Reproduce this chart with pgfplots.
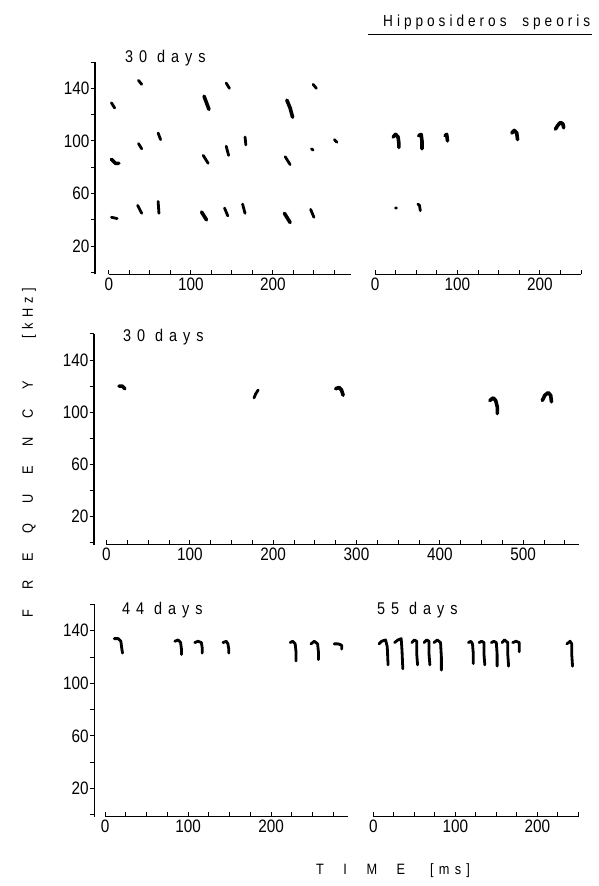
\documentclass[border=0pt]{standalone}
\usepackage{fontspec}
\setmainfont{Liberation Sans}[FakeStretch=0.85]
\newfontfamily\dayfont{Liberation Sans}[FakeStretch=0.85,LetterSpace=35]
\newfontfamily\titlefont{Liberation Sans}[FakeStretch=0.85,LetterSpace=25]
\newfontfamily\widefont{Liberation Sans}[FakeStretch=0.85,LetterSpace=130]
\usepackage{pgfplots}
\pgfplotsset{compat=1.18}

\pgfplotsset{
  panel/.style={
    scale only axis, clip=false, anchor=south west,
    ymin=-1.5, ymax=160,
    axis x line*=bottom,
    xtick={0,100,...,500}, minor xtick={25,50,...,575},
    xtick align=inside,
    major tick length=4.5pt, minor tick length=4.5pt,
    axis line style={line width=1.1pt},
    tick style={black, line width=0.9pt},
    tick label style={font=\fontsize{18}{18}\selectfont},
    /pgf/number format/assume math mode=true,
    unbounded coords=jump,
  },
  leftpanel/.style={panel, axis y line*=left,
    ytick={20,60,100,140}, minor ytick={0,40,...,160},
    ytick align=outside, yticklabel style={inner sep=1pt}},
  rightpanel/.style={panel, axis y line=none, ytick=\empty, xmin=0, xmax=250},
  call/.style={black, line width=2.8pt, line cap=round, line join=round, mark=none},
  blob/.style={black, line width=3.6pt, line cap=round, line join=round, mark=none},
}

\begin{document}
\begin{tikzpicture}[x=1pt,y=1pt]
\useasboundingbox (0,0) rectangle (598,886);

% title
\node[anchor=base west, inner sep=0pt, font=\titlefont\fontsize{16}{16}\selectfont] at (383,859) {Hipposideros\hspace{8pt} speoris};
\draw[line width=1pt] (368,851) -- (592,851);

% top left: 30 days
\begin{axis}[leftpanel, at={(95pt,611.5pt)}, width=255.8pt, height=212.5pt,
  xmin=-17, xmax=295, x axis line style={shorten <=13.9pt}]
\addplot[call] coordinates {
(3,129) (7,125) (nan,nan)
(36,146) (40,143) (nan,nan)
(143,144) (147,140) (nan,nan)
(249,143) (253,140) (nan,nan)
(36,98) (40,94) (nan,nan)
(60,106) (63,101) (nan,nan)
(115,89) (121,83) (nan,nan)
(143,96) (146,89) (nan,nan)
(166,103) (167,97) (nan,nan)
(215,88) (221,82) (nan,nan)
(247,94) (249,93) (nan,nan)
(275,101) (278,99) (nan,nan)
(3,42) (10,41) (nan,nan)
(35,51) (40,45) (nan,nan)
(60,54) (61,45) (nan,nan)
(141,49) (145,43) (nan,nan)
(163,52) (166,45) (nan,nan)
(246,48) (250,42)
};
\addplot[blob] coordinates {
(116,134) (119,129) (122,124) (nan,nan)
(217,131) (221,125) (224,118) (nan,nan)
(3,86) (8,83) (12,83) (nan,nan)
(113,46) (119,40) (nan,nan)
(214,45) (221,38)
};
\end{axis}
\node[anchor=base west, inner sep=0pt, font=\dayfont\fontsize{17}{17}\selectfont] at (125,823) {30 days};

% top right
\begin{axis}[rightpanel, at={(375pt,611.5pt)}, width=206pt, height=212.5pt]
\addplot[blob] coordinates {
(22,103) (25,105) (28,103) (29,98) (29,95) (nan,nan)
(53,104) (56,105) (57,100) (57,94) (nan,nan)
(85,104) (87,105) (88,100) (nan,nan)
(166,106) (169,108) (172,106) (173,101) (nan,nan)
(219,109) (222,112) (225,114) (228,113) (229,110)
};
\addplot[call] coordinates {
(25,49) (26,49) (nan,nan)
(52,52) (54,51) (55,47)
};
\end{axis}

% middle: 30 days
\begin{axis}[leftpanel, at={(94pt,341.2pt)}, width=485pt, height=210.9pt,
  xmin=-15, xmax=567, x axis line style={shorten <=12.5pt}]
\addplot[blob] coordinates {
(15,120) (19,120) (22,118) (nan,nan)
(275,118) (279,119) (282,117) (284,113) (nan,nan)
(460,109) (464,111) (467,109) (469,104) (469,99) (nan,nan)
(523,109) (526,113) (530,115) (533,113) (534,108)
};
\addplot[call] coordinates {
(177,111) (179,114) (182,117)
};
\end{axis}
\node[anchor=base west, inner sep=0pt, font=\dayfont\fontsize{17}{17}\selectfont] at (123,544) {30 days};

% bottom left: 44 days
\begin{axis}[leftpanel, at={(94.3pt,69.4pt)}, width=254pt, height=212.1pt,
  xmin=-13, xmax=293, x axis line style={shorten <=10.8pt}]
\addplot[call] coordinates {
(11,134) (16,134) (19,132) (20,127) (21,123) (nan,nan)
(84,132) (88,133) (91,131) (92,126) (92,122) (nan,nan)
(108,131) (112,132) (116,131) (117,127) (117,123) (nan,nan)
(142,131) (146,132) (148,130) (149,126) (149,123) (nan,nan)
(223,131) (226,132) (229,130) (230,124) (230,117) (nan,nan)
(248,130) (252,132) (256,130) (257,124) (257,118) (nan,nan)
(276,130) (281,130) (285,129) (285,126)
};
\end{axis}
\node[anchor=base west, inner sep=0pt, font=\dayfont\fontsize{17}{17}\selectfont] at (122,271) {44 days};

% bottom right: 55 days
\begin{axis}[rightpanel, at={(373.3pt,69.4pt)}, width=205pt, height=212.1pt]
\addplot[call] coordinates {
(7,130) (10,132) (15,133) (17,128) (18,114) (nan,nan)
(26,131) (30,133) (34,134) (35,125) (36,111) (nan,nan)
(47,131) (50,133) (53,132) (53,122) (54,114) (nan,nan)
(62,131) (65,133) (68,132) (68,122) (69,114) (nan,nan)
(74,131) (78,133) (82,131) (83,120) (83,110) (nan,nan)
(116,131) (119,132) (121,130) (122,122) (122,115) (nan,nan)
(129,131) (132,132) (135,131) (135,122) (136,114) (nan,nan)
(144,131) (147,132) (150,131) (151,122) (151,113) (nan,nan)
(157,131) (160,133) (164,131) (164,122) (165,113) (nan,nan)
(170,131) (174,132) (178,131) (178,127) (178,124) (nan,nan)
(236,130) (240,132) (242,130) (242,122) (243,113)
};
\end{axis}
\node[anchor=base west, inner sep=0pt, font=\dayfont\fontsize{17}{17}\selectfont] at (377,271) {55 days};

% axis titles
\node[rotate=90, inner sep=0pt, font=\widefont\fontsize{15}{15}\selectfont] at (29,387) {FREQUENCY};
\node[rotate=90, inner sep=0pt, font=\dayfont\fontsize{15}{15}\selectfont] at (29,573) {[kHz]};
\node[anchor=base west, inner sep=0pt, font=\widefont\fontsize{15}{15}\selectfont] at (316,11) {TIME};
\node[anchor=base west, inner sep=0pt, font=\dayfont\fontsize{15}{15}\selectfont] at (430,11) {[ms]};
\end{tikzpicture}
\end{document}
